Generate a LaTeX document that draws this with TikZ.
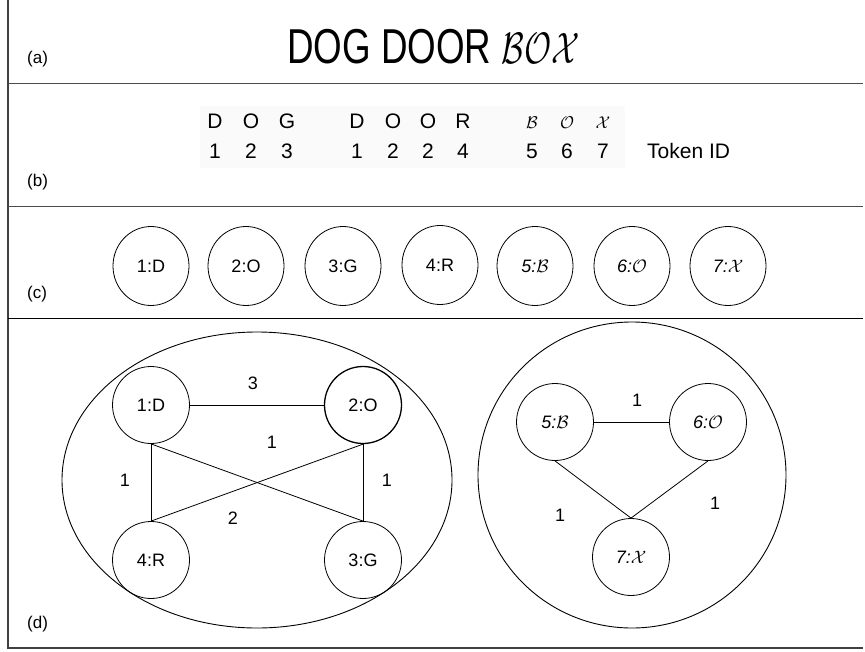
\RequirePackage{fix-cm}
\documentclass[tikz,border=0pt]{standalone}
\usepackage{graphicx}
\usepackage{fontspec}
\setmainfont{Liberation Sans}
\usetikzlibrary{shapes.geometric}
\begin{document}
\begin{tikzpicture}[x=1pt,y=-1pt,
  seclab/.style={font=\fontsize{17}{20}\selectfont, anchor=base west, inner sep=0},
  chr/.style={font=\fontsize{21}{25}\selectfont, anchor=base, inner sep=0},
  calchr/.style={font=\fontsize{17}{20}\selectfont, anchor=base, inner sep=0},
  tok/.style={draw, ellipse, minimum width=76pt, minimum height=79pt, inner sep=0, line width=0.8pt, font=\fontsize{18}{22}\selectfont},
  gnode/.style={draw, circle, minimum size=77pt, inner sep=0, line width=0.8pt, font=\fontsize{18}{22}\selectfont},
  grp/.style={draw, ellipse, inner sep=0, line width=0.9pt},
  wt/.style={font=\fontsize{18}{22}\selectfont, inner sep=0},
  frm/.style={line width=1.3pt, black!75},
  lnk/.style={line width=0.8pt}]
\useasboundingbox (0,0) rectangle (865,651);

% frame
\coordinate (tl) at (8,0);
\coordinate (bl) at (8,648);
\coordinate (br) at (863,648);
\draw[frm] (tl) -- (bl) -- (br);
\coordinate (s1a) at (8,83);  \coordinate (s1b) at (863,83);
\coordinate (s2a) at (8,206); \coordinate (s2b) at (863,206);
\coordinate (s3a) at (8,318); \coordinate (s3b) at (863,318);
\draw[line width=1pt, black!70] (s1a) -- (s1b);
\draw[line width=1pt, black!70] (s2a) -- (s2b);
\draw[line width=1pt, black] (s3a) -- (s3b);

% section labels
\node[seclab] (la) at (27,63) {(a)};
\node[seclab] (lb) at (27,186) {(b)};
\node[seclab] (lc) at (27,298) {(c)};
\node[seclab] (ld) at (27,628) {(d)};

% (a) title
\node[anchor=base west, inner sep=0] (title) at (287,63)
  {\scalebox{0.75}[1]{\fontsize{49}{56}\selectfont DOG DOOR {\fontsize{44}{50}\selectfont$\mathcal{BOX}$}}};

% (b) tokens
\fill[black!2] (200,106) rectangle (625,168);
\node[chr] (c1) at (215,128) {D};
\node[chr] (c2) at (251,128) {O};
\node[chr] (c3) at (287,128) {G};
\node[chr] (c4) at (357,128) {D};
\node[chr] (c5) at (393,128) {O};
\node[chr] (c6) at (428,128) {O};
\node[chr] (c7) at (463,128) {R};
\node[calchr] (c8) at (532,128) {$\mathcal{B}$};
\node[calchr] (c9) at (567,128) {$\mathcal{O}$};
\node[calchr] (c10) at (603,128) {$\mathcal{X}$};
\node[chr] (d1) at (215,158) {1};
\node[chr] (d2) at (251,158) {2};
\node[chr] (d3) at (287,158) {3};
\node[chr] (d4) at (357,158) {1};
\node[chr] (d5) at (393,158) {2};
\node[chr] (d6) at (428,158) {2};
\node[chr] (d7) at (463,158) {4};
\node[chr] (d8) at (532,158) {5};
\node[chr] (d9) at (567,158) {6};
\node[chr] (d10) at (603,158) {7};
\node[chr, anchor=base west] (tokid) at (647,158) {Token ID};

% (c) nodes
\node[tok] (t1) at (151,266) {1:D};
\node[tok] (t2) at (246,266) {2:O};
\node[tok] (t3) at (343,266) {3:G};
\node[tok] (t4) at (440,265) {4:R};
\node[tok] (t5) at (535,266) {\itshape 5:$\mathcal{B}$};
\node[tok] (t6) at (632,266) {\itshape 6:$\mathcal{O}$};
\node[tok] (t7) at (728,266) {\itshape 7:$\mathcal{X}$};

% (d) groups
\node[grp, minimum width=390pt, minimum height=296pt] (gA) at (257,480) {};
\node[grp, minimum width=308pt, minimum height=306pt] (gB) at (632,475) {};

% (d) left graph
\node[gnode] (g1) at (151,405) {1:D};
\node[gnode, line width=1.3pt] (g2) at (363,405) {2:O};
\node[gnode] (g4) at (151,560) {4:R};
\node[gnode] (g3) at (363,560) {3:G};
\draw[lnk] (g1.east) -- (g2.west);
\draw[lnk] (g1.south) -- (g4.north);
\draw[lnk] (g2.south) -- (g3.north);
\draw[lnk] (g1.south) -- (g3.north);
\draw[lnk] (g2.south) -- (g4.north);
\node[wt] (w13) at (253,383) {3};
\node[wt] (w12) at (272,442) {1};
\node[wt] (w14) at (125,480) {1};
\node[wt] (w23) at (387,480) {1};
\node[wt] (w24) at (233,518) {2};

% (d) right graph
\node[gnode] (g5) at (555,422) {\itshape 5:$\mathcal{B}$};
\node[gnode] (g6) at (708,422) {\itshape 6:$\mathcal{O}$};
\node[gnode] (g7) at (631,557) {\itshape 7:$\mathcal{X}$};
\draw[lnk] (g5.east) -- (g6.west);
\draw[lnk] (g5.south) -- (g7.north);
\draw[lnk] (g6.south) -- (g7.north);
\node[wt] (w56) at (637,400) {1};
\node[wt] (w57) at (560,515) {1};
\node[wt] (w67) at (715,503) {1};
\end{tikzpicture}
\end{document}
